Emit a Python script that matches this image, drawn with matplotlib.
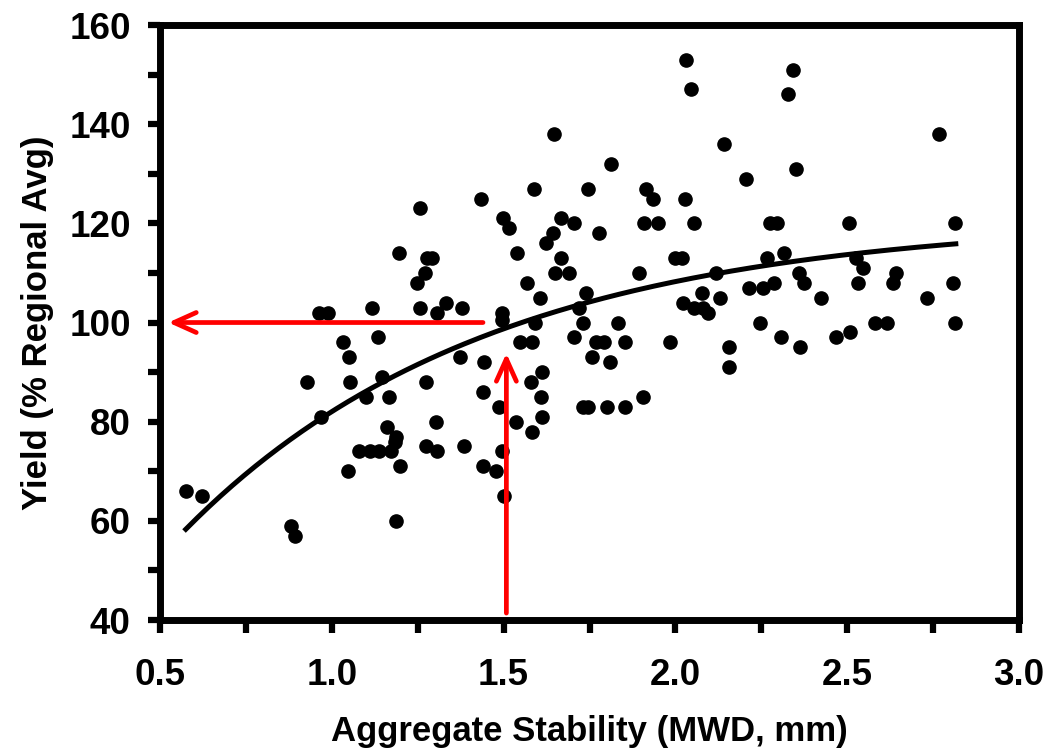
import numpy as np
import matplotlib
matplotlib.use("Agg")
import matplotlib.pyplot as plt
from matplotlib.ticker import MultipleLocator, FormatStrFormatter

plt.rcParams['font.family'] = ['Liberation Sans', 'DejaVu Sans']
plt.rcParams['font.weight'] = 'bold'

# aggregate stability (MWD, mm) and yield (% regional avg)
mwd = [0.575, 0.621, 0.880, 0.892, 0.928, 0.963, 0.989, 0.969, 1.033, 1.050,
       1.052, 1.047, 1.079, 1.110, 1.137, 1.171, 1.117, 1.135, 1.146, 1.099,
       1.167, 1.161, 1.186, 1.183, 1.198, 1.188, 1.195, 1.257, 1.277, 1.291,
       1.272, 1.249, 1.256, 1.306, 1.333, 1.379, 1.275, 1.302, 1.273, 1.306,
       1.384, 1.372, 1.443, 1.440, 1.440, 1.479, 1.435, 1.495, 1.495, 1.488,
       1.495, 1.500, 1.498, 1.515, 1.540, 1.547, 1.582, 1.537, 1.583, 1.580,
       1.609, 1.611, 1.611, 1.590, 1.606, 1.569, 1.588, 1.624, 1.645, 1.650,
       1.689, 1.666, 1.666, 1.704, 1.648, 1.719, 1.731, 1.740, 1.706, 1.731,
       1.745, 1.747, 1.757, 1.769, 1.791, 1.777, 1.801, 1.810, 1.813, 1.834,
       1.853, 1.853, 1.895, 1.906, 1.910, 1.949, 1.914, 1.936, 1.983, 2.000,
       2.020, 2.022, 2.029, 2.030, 2.046, 2.053, 2.053, 2.080, 2.094, 2.076,
       2.118, 2.131, 2.140, 2.155, 2.157, 2.206, 2.215, 2.254, 2.247, 2.266,
       2.276, 2.297, 2.288, 2.317, 2.308, 2.329, 2.342, 2.350, 2.360, 2.375,
       2.363, 2.424, 2.467, 2.509, 2.506, 2.525, 2.545, 2.531, 2.580, 2.617,
       2.632, 2.642, 2.733, 2.767, 2.815, 2.809, 2.815]
yld = [66, 65, 59, 57, 88, 102, 102, 81, 96, 93,
       88, 70, 74, 74, 74, 74, 103, 97, 89, 85,
       85, 79, 77, 76, 71, 60, 114, 123, 113, 113,
       110, 108, 103, 102, 104, 103, 88, 80, 75, 74,
       75, 93, 92, 86, 71, 70, 125, 102, 100.5, 83,
       74, 65, 121, 119, 114, 96, 96, 80, 78, 88,
       85, 81, 90, 100, 105, 108, 127, 116, 118, 110,
       110, 113, 121, 120, 138, 103, 100, 106, 97, 83,
       83, 127, 93, 96, 96, 118, 83, 92, 132, 100,
       96, 83, 110, 85, 120, 120, 127, 125, 96, 113,
       113, 104, 125, 153, 147, 120, 103, 103, 102, 106,
       110, 105, 136, 95, 91, 129, 107, 107, 100, 113,
       120, 120, 108, 114, 97, 146, 151, 131, 110, 108,
       95, 105, 97, 98, 120, 113, 111, 108, 100, 100,
       108, 110, 105, 138, 120, 108, 100]

# fitted trend line  y = a - b*exp(-k*x)
fit_a, fit_b, fit_k = 120.96, 119.3, 1.12
fit_range = (0.575, 2.816)

fig = plt.figure(figsize=(10.5, 7.49), dpi=100)
ax = fig.add_axes([0.1524, 0.1722, 0.8181, 0.7944])

ax.plot(mwd, yld, 'o', ms=9.5, color='black', zorder=3)

xf = np.linspace(fit_range[0], fit_range[1], 200)
ax.plot(xf, fit_a - fit_b * np.exp(-fit_k * xf), color='black', lw=3.6, zorder=2)

arrow = dict(arrowstyle='->,head_length=0.8,head_width=0.36', color='red',
             lw=3.4, mutation_scale=20, shrinkA=0, shrinkB=0)
ax.annotate('', xy=(0.524, 100), xytext=(1.44, 100), arrowprops=arrow, zorder=4)
ax.annotate('', xy=(1.508, 93.8), xytext=(1.508, 41.4), arrowprops=arrow, zorder=4)

ax.set_xlim(0.5, 3.0)
ax.set_ylim(40, 160)
ax.xaxis.set_major_locator(MultipleLocator(0.5))
ax.xaxis.set_minor_locator(MultipleLocator(0.25))
ax.xaxis.set_major_formatter(FormatStrFormatter('%.1f'))
ax.yaxis.set_major_locator(MultipleLocator(20))
ax.yaxis.set_minor_locator(MultipleLocator(10))

for s in ax.spines.values():
    s.set_linewidth(5)
ax.tick_params(which='both', direction='out', length=9, width=4.5, color='black')
ax.tick_params(axis='x', which='major', labelsize=26.5, pad=18)
ax.tick_params(axis='y', which='major', labelsize=26.5, pad=12)
for lab in ax.get_xticklabels() + ax.get_yticklabels():
    lab.set_fontweight('bold')

ax.set_xlabel('Aggregate Stability (MWD, mm)', fontsize=25, fontweight='bold')
ax.set_ylabel('Yield (% Regional Avg)', fontsize=25, fontweight='bold')
ax.xaxis.set_label_coords(0.5, -0.160)
ax.yaxis.set_label_coords(-0.124, 0.5)

fig.savefig('out.png', dpi=100)
